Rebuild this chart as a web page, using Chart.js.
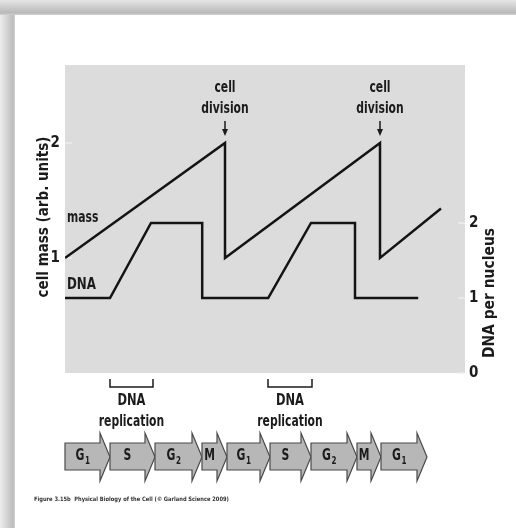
<!DOCTYPE html>
<html lang="en">
<head>
<meta charset="UTF-8">
<title>Cell mass and DNA through the cell cycle</title>
<script src="https://cdn.jsdelivr.net/npm/chart.js@4.4.0/dist/chart.umd.min.js"></script>
<style>
  body { margin: 0; background: #fff; }
</style>
</head>
<body>
<canvas id="chart" width="516" height="528"></canvas>
<script>
// time runs 0..10 (arbitrary units) across the grey panel
const massTime = [0, 4.0, 4.0, 7.875, 7.875, 9.4];
const massValue = [1, 2, 1.0, 2, 1.0, 1.43];

const dnaTime = [0, 1.125, 2.15, 3.43, 3.43, 5.08, 6.15, 7.25, 7.25, 8.83];
const dnaValue = [1, 1, 2, 2, 1, 1, 2, 2, 1, 1];

const divisionTimes = [4.0, 7.875];

// DNA replication brackets (start, end)
const replStart = [1.125, 5.075];
const replEnd = [2.2, 6.175];

// cell cycle phases, each arrow ends where the next begins
const phaseNames = ['G1', 'S', 'G2', 'M', 'G1', 'S', 'G2', 'M', 'G1'];
const phaseEnds = [1.125, 2.25, 3.425, 4.05, 5.125, 6.15, 7.3, 7.9, 9.05];

const massTicks = [1, 2];
const dnaTicks = [0, 1, 2];

const FONT = '"DejaVu Sans Condensed", "DejaVu Sans", sans-serif';
const INK = '#1b1b1b';
const SQUEEZE = 0.8; // the figure uses a narrow face

function pts(xs, ys) {
  return xs.map((x, i) => ({ x: x, y: ys[i] }));
}

// draw text squeezed horizontally
function say(ctx, txt, x, y, align, sx) {
  ctx.save();
  ctx.translate(x, y);
  ctx.scale(sx || SQUEEZE, 1);
  ctx.textAlign = align || 'center';
  ctx.fillText(txt, 0, 0);
  ctx.restore();
}

const extras = {
  id: 'extras',
  beforeDraw(chart) {
    const ctx = chart.ctx, a = chart.chartArea;
    ctx.save();
    ctx.fillStyle = '#fff';
    ctx.fillRect(0, 0, chart.width, chart.height);
    // page shadow top + left
    let g = ctx.createLinearGradient(0, 0, 0, 15);
    g.addColorStop(0, '#e6e6e6');
    g.addColorStop(0.85, '#b9b9b9');
    g.addColorStop(1, '#d0d0d0');
    ctx.fillStyle = g;
    ctx.fillRect(0, 0, chart.width, 15);
    g = ctx.createLinearGradient(0, 0, 15, 0);
    g.addColorStop(0, '#eeeeee');
    g.addColorStop(0.85, '#bdbdbd');
    g.addColorStop(1, '#d0d0d0');
    ctx.fillStyle = g;
    ctx.fillRect(0, 15, 15, chart.height);
    // grey panel
    ctx.fillStyle = '#dcdcdd';
    ctx.fillRect(a.left, a.top, a.right - a.left, a.bottom - a.top);
    // faint inner tick marks
    ctx.strokeStyle = '#eeeeee';
    ctx.lineWidth = 1.5;
    const ym = chart.scales.yMass, yd = chart.scales.yDna;
    massTicks.forEach(v => {
      const y = ym.getPixelForValue(v);
      ctx.beginPath(); ctx.moveTo(a.left, y); ctx.lineTo(a.left + 7, y); ctx.stroke();
    });
    dnaTicks.forEach(v => {
      const y = yd.getPixelForValue(v);
      ctx.beginPath(); ctx.moveTo(a.right - 7, y); ctx.lineTo(a.right, y); ctx.stroke();
    });
    ctx.restore();
  },
  afterDraw(chart) {
    const ctx = chart.ctx, a = chart.chartArea;
    const xs = chart.scales.x;
    ctx.save();
    ctx.fillStyle = INK;
    ctx.strokeStyle = INK;
    ctx.textBaseline = 'middle';
    ctx.font = 'bold 15px ' + FONT;

    // cell division labels + arrows
    divisionTimes.forEach(t => {
      const x = xs.getPixelForValue(t);
      say(ctx, 'cell', x, 88);
      say(ctx, 'division', x, 109);
      ctx.lineWidth = 1.5;
      ctx.beginPath();
      ctx.moveTo(x, 121);
      ctx.lineTo(x, 131);
      ctx.stroke();
      ctx.beginPath();
      ctx.moveTo(x - 3, 129);
      ctx.lineTo(x + 3, 129);
      ctx.lineTo(x, 136);
      ctx.closePath();
      ctx.fill();
    });

    // series labels
    say(ctx, 'mass', 67, 218, 'left');
    say(ctx, 'DNA', 67, 285, 'left', 0.88);

    // axis titles
    ctx.save();
    ctx.translate(44, 217);
    ctx.rotate(-Math.PI / 2);
    say(ctx, 'cell mass (arb. units)', 0, 0, 'center', 1.0);
    ctx.restore();
    ctx.save();
    ctx.translate(490, 293);
    ctx.rotate(-Math.PI / 2);
    say(ctx, 'DNA per nucleus', 0, 0, 'center', 1.03);
    ctx.restore();

    // replication brackets
    ctx.lineWidth = 1.5;
    replStart.forEach((s, i) => {
      const x0 = xs.getPixelForValue(s), x1 = xs.getPixelForValue(replEnd[i]);
      ctx.beginPath();
      ctx.moveTo(x0, 379);
      ctx.lineTo(x0, 387);
      ctx.lineTo(x1, 387);
      ctx.lineTo(x1, 379);
      ctx.stroke();
      const cx = (x0 + x1) / 2;
      say(ctx, 'DNA', cx, 401, 'center', 0.85);
      say(ctx, 'replication', cx, 422);
    });

    // phase arrows
    let start = a.left;
    phaseNames.forEach((name, i) => {
      const tip = xs.getPixelForValue(phaseEnds[i]);
      const base = tip - 10;
      ctx.beginPath();
      ctx.moveTo(start, 443);
      ctx.lineTo(base, 443);
      ctx.lineTo(base, 433);
      ctx.lineTo(tip, 457);
      ctx.lineTo(base, 481);
      ctx.lineTo(base, 470);
      ctx.lineTo(start, 470);
      ctx.closePath();
      ctx.fillStyle = '#b7b7b7';
      ctx.fill();
      ctx.strokeStyle = '#4a4a4a';
      ctx.lineWidth = 1.2;
      ctx.stroke();

      ctx.fillStyle = INK;
      const cx = (start + base) / 2;
      const main = name[0], sub = name.slice(1);
      ctx.font = 'bold 15px ' + FONT;
      if (sub) {
        const w1 = ctx.measureText(main).width * SQUEEZE;
        ctx.font = 'bold 10px ' + FONT;
        const w2 = ctx.measureText(sub).width * SQUEEZE;
        const left = cx - (w1 + w2) / 2;
        ctx.font = 'bold 15px ' + FONT;
        say(ctx, main, left, 456, 'left');
        ctx.font = 'bold 10px ' + FONT;
        say(ctx, sub, left + w1 + 0.5, 461, 'left');
      } else {
        say(ctx, main, cx, 456);
      }
      start = tip;
    });

    // caption
    ctx.font = 'bold 6px ' + FONT;
    ctx.fillStyle = '#333';
    say(ctx, 'Figure 3.15b  Physical Biology of the Cell (\u00A9 Garland Science 2009)', 34, 499, 'left', 0.95);
    ctx.restore();
  }
};

new Chart(document.getElementById('chart'), {
  type: 'scatter',
  data: {
    datasets: [
      {
        label: 'mass',
        data: pts(massTime, massValue),
        yAxisID: 'yMass',
        showLine: true,
        borderColor: '#141414',
        borderWidth: 2.5,
        pointRadius: 0,
        tension: 0
      },
      {
        label: 'DNA',
        data: pts(dnaTime, dnaValue),
        yAxisID: 'yDna',
        showLine: true,
        borderColor: '#141414',
        borderWidth: 2.5,
        pointRadius: 0,
        tension: 0
      }
    ]
  },
  options: {
    responsive: false,
    animation: false,
    layout: { padding: { left: 0, right: 0, top: 65, bottom: 155 } },
    plugins: { legend: { display: false }, tooltip: { enabled: false } },
    scales: {
      x: { type: 'linear', min: 0, max: 10, display: false },
      yMass: {
        position: 'left',
        min: 0,
        max: 308 / 115,
        afterBuildTicks: s => { s.ticks = massTicks.map(v => ({ value: v })); },
        afterFit: s => { s.width = 65; },
        grid: { display: false, drawTicks: false },
        border: { display: false },
        ticks: { color: INK, font: { family: FONT, size: 15, weight: 'bold' }, padding: 5 }
      },
      yDna: {
        position: 'right',
        min: 0,
        max: 308 / 75,
        afterBuildTicks: s => { s.ticks = dnaTicks.map(v => ({ value: v })); },
        afterFit: s => { s.width = 51; },
        grid: { display: false, drawTicks: false },
        border: { display: false },
        ticks: { color: INK, font: { family: FONT, size: 15, weight: 'bold' }, padding: 4 }
      }
    }
  },
  plugins: [extras]
});
</script>
</body>
</html>
